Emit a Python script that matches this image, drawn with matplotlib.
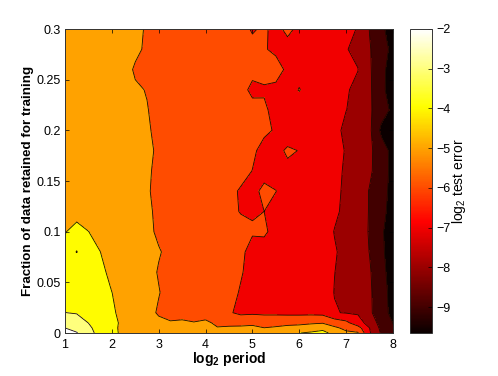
# contour map of test error against period and training fraction
import matplotlib
matplotlib.use('Agg')
import matplotlib.pyplot as plt
import matplotlib.cm as cm
from matplotlib.colors import Normalize
import numpy as np

plt.rcParams['font.family'] = ['Liberation Sans', 'DejaVu Sans']
plt.rcParams['mathtext.fontset'] = 'custom'
plt.rcParams['mathtext.rm'] = 'Liberation Sans'
plt.rcParams['mathtext.bf'] = 'Liberation Sans:bold'

log2_period = [1, 1.25, 1.5, 1.75, 2, 2.25, 2.5, 2.75, 3, 3.25, 3.5, 3.75, 4, 4.25, 4.5,
               4.75, 5, 5.25, 5.5, 5.75, 6, 6.25, 6.5, 6.75, 7, 7.25, 7.5, 7.75, 8]
fraction = [0, 0.005, 0.01, 0.02, 0.04, 0.06, 0.08, 0.1, 0.12, 0.14, 0.16, 0.18, 0.2,
            0.22, 0.24, 0.26, 0.28, 0.3]

# log2 test error, one row per training fraction
err_000 = [-1.85,-1.95,-2.6,-3.4,-3.88,-4.1,-4.45,-4.6,-4.7,-4.7,-4.65,-4.7,-4.6,-4.65,-4.65,-4.6,-4.55,-4.7,-4.6,-4.4,-4.02,-3.85,-3.6,-4.4,-4.85,-4.9,-6.9,-8.1,-8.85]
err_005 = [-2.0,-2.25,-2.8,-3.45,-3.8,-4.2,-4.5,-4.7,-4.8,-4.8,-4.75,-4.8,-4.7,-4.95,-4.9,-4.85,-4.8,-4.99,-4.9,-4.8,-4.7,-4.6,-4.4,-4.85,-5.2,-5.6,-7.0,-8.25,-8.95]
err_010 = [-2.3,-2.6,-3.01,-3.4,-3.75,-4.2,-4.55,-4.75,-4.9,-4.95,-4.87,-4.96,-4.79,-5.2,-5.2,-5.25,-5.2,-5.3,-5.3,-5.2,-5.2,-5.1,-5.05,-5.4,-5.75,-6.6,-7.35,-8.4,-9.02]
err_020 = [-2.99,-3.05,-3.3,-3.6,-3.85,-4.3,-4.6,-4.85,-5.05,-5.2,-5.3,-5.4,-5.5,-5.65,-5.9,-6.2,-6.15,-6.2,-6.2,-6.25,-6.25,-6.25,-6.3,-6.95,-7.05,-7.1,-7.85,-8.5,-9.35]
err_040 = [-3.4,-3.4,-3.4,-3.5,-3.99,-4.45,-4.6,-4.8,-4.98,-5.15,-5.25,-5.35,-5.45,-5.6,-5.8,-6.05,-6.2,-6.3,-6.35,-6.4,-6.45,-6.5,-6.65,-7.02,-7.2,-7.4,-7.85,-8.6,-9.35]
err_060 = [-3.5,-3.55,-3.5,-3.6,-4.4,-4.55,-4.68,-4.85,-5.03,-5.15,-5.25,-5.35,-5.45,-5.55,-5.7,-5.95,-6.2,-6.3,-6.35,-6.4,-6.45,-6.5,-6.65,-6.99,-7.2,-7.45,-7.9,-8.7,-9.45]
err_080 = [-3.7,-4.02,-3.6,-3.99,-4.4,-4.55,-4.7,-4.83,-4.97,-5.1,-5.2,-5.3,-5.4,-5.5,-5.65,-5.85,-6.25,-6.2,-6.3,-6.35,-6.4,-6.45,-6.6,-6.92,-7.25,-7.55,-8.02,-8.8,-9.55]
err_100 = [-4.05,-3.68,-3.99,-4.3,-4.5,-4.62,-4.75,-4.9,-5.07,-5.15,-5.25,-5.35,-5.45,-5.55,-5.65,-5.8,-5.93,-5.93,-6.15,-6.25,-6.3,-6.4,-6.55,-7.03,-7.2,-7.55,-8.07,-8.85,-9.6]
err_120 = [-4.4,-4.35,-4.45,-4.55,-4.65,-4.75,-4.85,-4.93,-5.08,-5.2,-5.3,-5.4,-5.5,-5.65,-5.85,-6.03,-6.06,-6.0,-6.2,-6.3,-6.35,-6.4,-6.5,-6.85,-7.2,-7.55,-8.05,-8.7,-9.4]
err_140 = [-4.45,-4.45,-4.5,-4.6,-4.65,-4.75,-4.85,-4.95,-5.13,-5.2,-5.3,-5.4,-5.5,-5.62,-5.85,-6.06,-6.12,-5.9,-5.99,-6.2,-6.3,-6.4,-6.55,-6.75,-7.2,-7.5,-8.05,-8.65,-9.3]
err_160 = [-4.42,-4.45,-4.5,-4.6,-4.65,-4.72,-4.8,-4.95,-5.08,-5.15,-5.22,-5.3,-5.4,-5.5,-5.6,-5.8,-6.01,-6.15,-6.2,-6.08,-6.25,-6.35,-6.5,-6.7,-7.15,-7.4,-7.85,-8.5,-9.3]
err_180 = [-4.4,-4.45,-4.52,-4.6,-4.65,-4.72,-4.8,-4.92,-5.06,-5.12,-5.2,-5.3,-5.4,-5.5,-5.6,-5.72,-5.9,-6.18,-6.1,-5.95,-6.01,-6.3,-6.5,-6.75,-7.05,-7.3,-7.8,-8.55,-9.3]
err_200 = [-4.4,-4.48,-4.55,-4.62,-4.7,-4.78,-4.85,-4.95,-5.1,-5.15,-5.2,-5.28,-5.35,-5.42,-5.5,-5.6,-5.7,-5.9,-6.05,-6.2,-6.3,-6.4,-6.5,-6.75,-7.2,-7.45,-7.8,-9.2,-9.6]
err_220 = [-4.45,-4.5,-4.58,-4.65,-4.72,-4.8,-4.88,-4.99,-5.07,-5.12,-5.2,-5.3,-5.4,-5.45,-5.52,-5.62,-5.78,-5.85,-6.3,-6.4,-6.45,-6.5,-6.6,-6.78,-6.99,-7.2,-7.85,-8.6,-9.2]
err_240 = [-4.45,-4.5,-4.6,-4.7,-4.8,-4.87,-4.97,-5.01,-5.1,-5.2,-5.3,-5.35,-5.4,-5.5,-5.65,-5.78,-6.15,-6.1,-6.12,-6.3,-5.96,-6.4,-6.5,-6.65,-6.92,-7.2,-7.85,-8.7,-9.6]
err_260 = [-4.4,-4.5,-4.6,-4.7,-4.8,-4.9,-5.03,-5.1,-5.15,-5.2,-5.25,-5.3,-5.35,-5.4,-5.45,-5.6,-5.82,-5.7,-5.8,-6.1,-6.3,-6.4,-6.55,-6.7,-6.85,-6.98,-7.88,-8.7,-9.5]
err_280 = [-4.45,-4.5,-4.6,-4.68,-4.75,-4.85,-4.95,-5.04,-5.12,-5.2,-5.3,-5.4,-5.5,-5.6,-5.7,-5.82,-5.94,-5.96,-6.1,-6.08,-6.2,-6.3,-6.5,-6.75,-6.96,-7.2,-7.93,-8.6,-9.25]
err_300 = [-4.45,-4.5,-4.6,-4.65,-4.75,-4.85,-4.93,-5.03,-5.12,-5.2,-5.3,-5.4,-5.5,-5.6,-5.7,-5.93,-6.02,-5.97,-6.06,-5.95,-6.05,-6.2,-6.4,-6.6,-6.85,-7.03,-8.03,-8.79,-9.5]

err_rows = [err_000, err_005, err_010, err_020, err_040, err_060, err_080, err_100, err_120,
            err_140, err_160, err_180, err_200, err_220, err_240, err_260, err_280, err_300]

line_levels = [-9, -8, -7, -6, -5, -4, -3, -2]
fill_levels = [-9.65] + line_levels + [-1.5]
cbar_ticks = [-2, -3, -4, -5, -6, -7, -8, -9]
y_ticks = [0, 0.05, 0.1, 0.15, 0.2, 0.25, 0.3]
y_ticklabels = ['0', '0.05', '0.1', '0.15', '0.2', '0.25', '0.3']

W, H = 498.0, 376.0
fig = plt.figure(figsize=(W/100, H/100), dpi=100)
ax = fig.add_axes([65/W, 1-333/H, 328/W, 304/H])
cax = fig.add_axes([410/W, 1-333/H, 22/W, 304/H])

# each band takes the colour of its lower level, as the old contourf did
norm = Normalize(-9.65, -2)
band_colors = [cm.hot(norm(v)) for v in fill_levels[:-1]]
ax.contourf(log2_period, fraction, np.array(err_rows), levels=fill_levels, colors=band_colors)
ax.contour(log2_period, fraction, np.array(err_rows), levels=line_levels, colors='#1a0a00',
           linewidths=0.6, linestyles='solid')

ax.set_xlim(1, 8)
ax.set_ylim(0, 0.3)
ax.set_xticks(range(1, 9))
ax.set_yticks(y_ticks)
ax.set_yticklabels(y_ticklabels)
ax.tick_params(direction='in', top=True, right=True, length=3, width=0.5, labelsize=9, pad=3)
ax.tick_params(axis='x', pad=4)
ax.set_xlabel(r'$\mathbf{log_2}$ period', fontsize=10, fontweight='bold', labelpad=-0.5)
ax.set_ylabel('Fraction of data retained for training', fontsize=9.6, fontweight='bold', labelpad=2)

sm = cm.ScalarMappable(norm=norm, cmap='hot')
cb = fig.colorbar(sm, cax=cax)
cb.set_ticks(cbar_ticks)
cax.tick_params(direction='in', left=False, right=True, length=3, width=0.5, labelsize=9, pad=3)
cb.set_label(r'log$_2$ test error', fontsize=10, labelpad=0)

for s in list(ax.spines.values()) + list(cb.ax.spines.values()):
    s.set_linewidth(0.7)
    s.set_color('#333333')
cb.outline.set_linewidth(0.7)
cb.outline.set_edgecolor('#333333')

fig.savefig('out.png', dpi=100)
